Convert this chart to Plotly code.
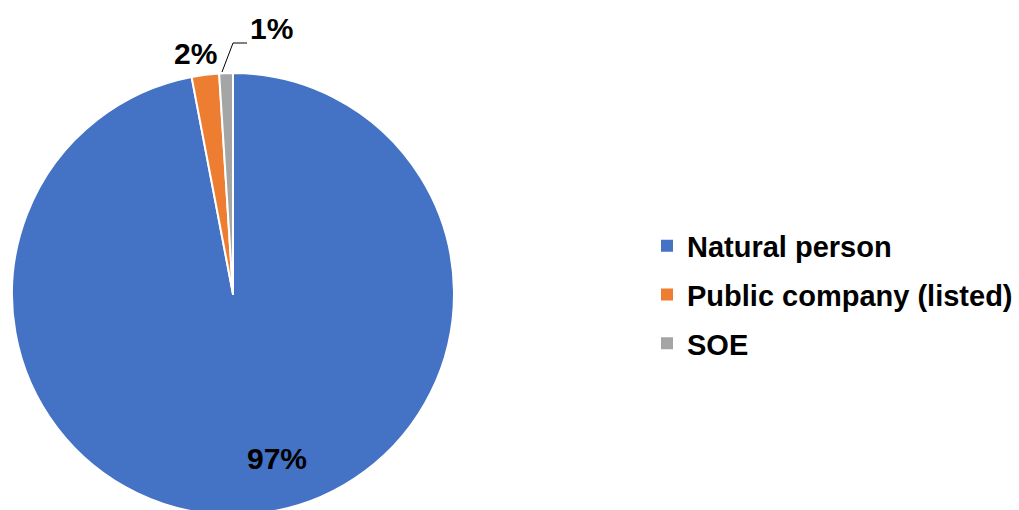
import math
import plotly.graph_objects as go

# Ownership breakdown
categories = ["Natural person", "Public company (listed)", "SOE"]
shares = [97, 2, 1]
colors = ["#4472C4", "#ED7D31", "#A5A5A5"]

W, H = 1019, 516
FONT = "Arial, Liberation Sans, sans-serif"


def fx(x):
    return x / W


def fy(y):
    return 1 - y / H


# pie geometry in pixels (top-left origin)
cx, cy, r = 233, 294, 221

fig = go.Figure(
    go.Pie(
        labels=categories,
        values=shares,
        sort=False,
        direction="clockwise",
        rotation=0,
        marker=dict(colors=colors, line=dict(color="white", width=2)),
        textinfo="none",
        hoverinfo="label+percent",
        showlegend=False,
        domain=dict(x=[fx(cx - r), fx(cx + r)], y=[fy(cy + r), fy(cy - r)]),
    )
)

# legend entries, one group per category so the rows can be spaced apart
for i, (name, col) in enumerate(zip(categories, colors)):
    fig.add_trace(
        go.Scatter(
            x=[None], y=[None], mode="markers", name=name,
            legendgroup=f"g{i}",
            marker=dict(symbol="square", size=12, color=col),
            hoverinfo="skip",
        )
    )

total = sum(shares)
pct = [f"{round(v / total * 100)}%" for v in shares]

label_pos = [(277, 458), (195, 54), (271, 29)]
annotations = []
for txt, (x, y) in zip(pct, label_pos):
    annotations.append(
        dict(
            x=fx(x), y=fy(y), xref="paper", yref="paper",
            text=txt, showarrow=False, xanchor="center", yanchor="middle",
            font=dict(family=FONT, size=30, color="black", weight="bold"),
        )
    )

# leader line for the smallest slice
leader = [(222, 72), (233, 43), (247, 43)]
path = "M " + " L ".join(f"{fx(x)},{fy(y)}" for x, y in leader)

fig.update_layout(
    width=W,
    height=H,
    margin=dict(l=0, r=0, t=0, b=0),
    paper_bgcolor="white",
    plot_bgcolor="white",
    xaxis=dict(visible=False),
    yaxis=dict(visible=False),
    annotations=annotations,
    shapes=[dict(type="path", path=path, xref="paper", yref="paper",
                 line=dict(color="black", width=1))],
    showlegend=True,
    legend=dict(
        x=fx(647), xanchor="left", y=fy(295), yanchor="middle",
        font=dict(family=FONT, size=29, color="black", weight="bold"),
        traceorder="grouped", tracegroupgap=8,
        bgcolor="rgba(0,0,0,0)",
    ),
)

fig.write_html(
    "out.html",
    post_script="document.body.style.overflow='hidden';"
                "document.documentElement.style.overflow='hidden';",
)
